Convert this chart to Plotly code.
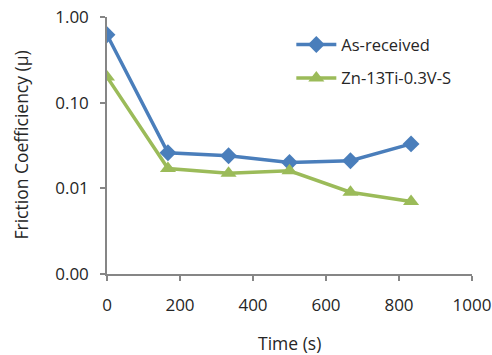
import plotly.graph_objects as go

time_s = [0, 167, 333, 500, 667, 833]
as_received = [0.62, 0.026, 0.024, 0.020, 0.021, 0.033]
zn_ti_v = [0.20, 0.017, 0.015, 0.016, 0.009, 0.007]
y_tickvals = [0.001, 0.01, 0.1, 1]
y_ticktext = ["0.00", "0.01", "0.10", "1.00"]
x_tickvals = [0, 200, 400, 600, 800, 1000]

axis_color = "#868686"
font_family = "Open Sans, Liberation Sans, sans-serif"

fig = go.Figure()
fig.add_trace(go.Scatter(
    x=time_s, y=as_received, name="As-received", mode="lines+markers",
    legendgroup="a",
    line=dict(color="#4a7ebb", width=3.5),
    marker=dict(symbol="diamond", size=13, color="#4a7ebb"),
))
fig.add_trace(go.Scatter(
    x=time_s, y=zn_ti_v, name="Zn-13Ti-0.3V-S", mode="lines+markers",
    legendgroup="b",
    line=dict(color="#9bbb59", width=3.5),
    marker=dict(symbol="triangle-up", size=14, color="#9bbb59"),
))

fig.update_layout(
    width=492, height=355,
    margin=dict(l=107, r=20, t=17, b=81),
    paper_bgcolor="white", plot_bgcolor="white",
    font=dict(family=font_family, size=17, color="#262626"),
    showlegend=True,
    legend=dict(x=0.505, y=0.96, xanchor="left", yanchor="top",
                font=dict(size=16.5), bgcolor="rgba(0,0,0,0)",
                tracegroupgap=9, itemwidth=40),
    xaxis=dict(range=[0, 1000], tickvals=x_tickvals, showgrid=False, zeroline=False,
               automargin=False,
               showline=True, linecolor=axis_color, linewidth=1.5,
               ticks="outside", tickcolor=axis_color, ticklen=5, tickwidth=1.5,
               ticklabelstandoff=10),
    yaxis=dict(type="log", range=[-3, 0], tickvals=y_tickvals, ticktext=y_ticktext,
               showgrid=False, zeroline=False, automargin=False,
               showline=True, linecolor=axis_color, linewidth=1.5,
               ticks="outside", tickcolor=axis_color, ticklen=5, tickwidth=1.5,
               ticklabelstandoff=8),
    annotations=[
        dict(text="Time (s)", xref="paper", yref="paper", x=0.5, y=0,
             xanchor="center", yanchor="middle", yshift=-69, showarrow=False,
             font=dict(size=17.5)),
        dict(text="Friction Coefficiency (μ)", xref="paper", yref="paper", x=0, y=0.5,
             xanchor="center", yanchor="middle", xshift=-87, textangle=-90,
             showarrow=False, font=dict(size=17.5)),
    ],
)

fig.write_html("out.html")
